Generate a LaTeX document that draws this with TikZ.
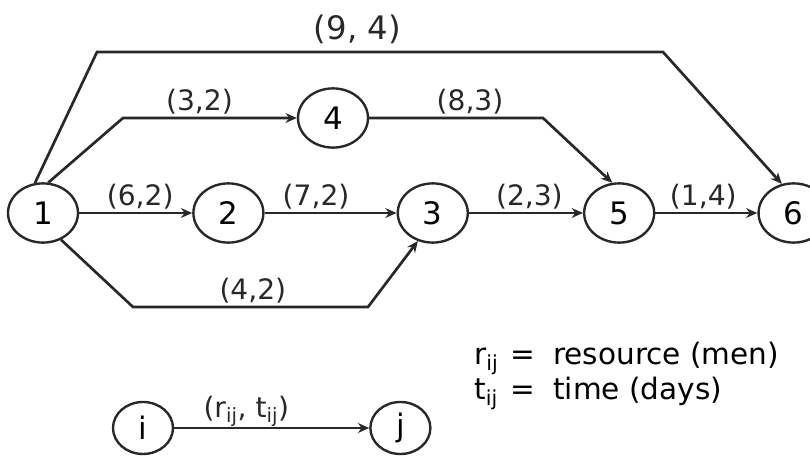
\documentclass[tikz,border=0pt]{standalone}
\usepackage{fontspec}
\setmainfont{DejaVu Sans}
\usetikzlibrary{arrows.meta,positioning,shapes.geometric}
\definecolor{ink}{RGB}{40,40,40}
\tikzset{
  evt/.style={ellipse, draw=ink, line width=1.7pt, minimum width=17.5mm,
              minimum height=14.8mm, inner sep=0pt, font=\fontsize{22}{24}\selectfont},
  keyevt/.style={evt, minimum width=15mm, minimum height=13mm},
  act/.style={-{Stealth[length=8pt,width=7pt]}, line width=1.9pt, draw=ink},
  lbl/.style={font=\fontsize{20}{22}\selectfont, inner sep=2pt, text=ink}
}

\begin{document}
\begin{tikzpicture}
  \useasboundingbox (0,0) rectangle (20.25,11.425);
  \node[evt] (n1) at (1.075,6.1) {1};
  \node[evt, right=28.25mm of n1] (n2) {2};
  \node[evt, right=33mm of n2] (n3) {3};
  \node[evt, right=28.5mm of n3] (n5) {5};
  \node[evt, right=25.5mm of n5] (n6) {6};
  \node[evt] (n4) at (8.325,8.475) {4};
  \coordinate (c94a) at (2.425,10.125);
  \coordinate (c94b) at (16.575,10.125);
  \coordinate (c32) at (3.075,8.475);
  \coordinate (c83) at (13.575,8.475);
  \coordinate (c42a) at (3.325,3.75);
  \coordinate (c42b) at (9.2,3.75);
  \draw[act] (n1) -- node[lbl, above, pos=.54] {(6,2)} (n2);
  \draw[act] (n2) -- node[lbl, above, pos=.39] {(7,2)} (n3);
  \draw[act] (n3) -- node[lbl, above, pos=.53] {(2,3)} (n5);
  \draw[act] (n5) -- node[lbl, above, pos=.47] {(1,4)} (n6);
  \draw[act] (n1.80) -- (c32) -- node[lbl, above, pos=.44] {(3,2)} (n4);
  \draw[act] (n4) -- node[lbl, above, pos=.58] {(8,3)} (c83) -- (n5.103);
  \draw[act] (n1.105) -- (c94a) -- node[lbl, above, pos=.46, yshift=3pt,
    font=\fontsize{23}{25}\selectfont] {(9, 4)} (c94b) -- (n6.112);
  \draw[act] (n1.-56) -- (c42a) -- node[lbl, above, pos=.51] {(4,2)} (c42b) -- (n3.-118);
  \node[keyevt] (ni) at (3.575,0.725) {i};
  \node[keyevt, right=48.75mm of ni] (nj) {j};
  \draw[act] (ni) -- node[lbl, pos=.37, anchor=base, yshift=2.5mm]
    {(r\textsubscript{ij}, t\textsubscript{ij})} (nj);
  \node[anchor=west, inner sep=0pt, font=\fontsize{21}{25}\selectfont] (key) at (11.85,2.05)
    {\begin{tabular}{@{}l@{\hspace{3mm}}l@{\hspace{4.5mm}}l@{}}
      r\textsubscript{ij} & = & resource (men)\\
      t\textsubscript{ij} & = & time (days)
    \end{tabular}};
\end{tikzpicture}
\end{document}
